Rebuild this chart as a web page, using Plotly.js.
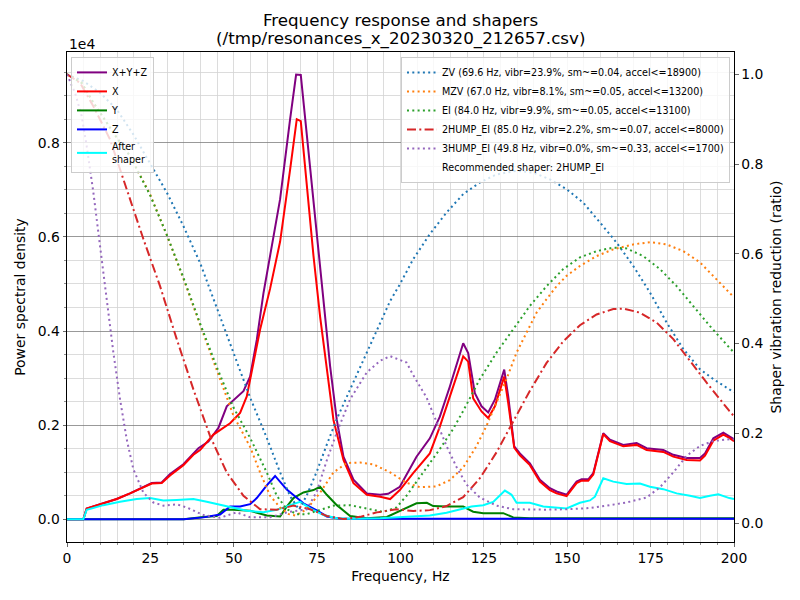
<!DOCTYPE html>
<html>
<head>
<meta charset="utf-8">
<script src="https://cdn.plot.ly/plotly-3.0.1.min.js"></script>
<style>
  body { margin: 0; background: #fff; }
  #plot { width: 800px; height: 600px; }
</style>
</head>
<body>
<div id="plot"></div>
<script>
// PSD values are in units of 1e4
var sumFreq = [0, 4.9, 5.9, 10.9, 14.9, 18.9, 22.4, 25.4, 28.4, 30.9, 34.9, 37.4, 39.4, 42.4, 45.4, 47.9, 50.4, 52.9, 54.9, 56.9, 58.9, 60.9, 63.9, 66.9, 68.7, 70.1, 72.4, 73.9, 76.9, 78.9, 80.9, 82.9, 85.9, 89.9, 93.9, 96.3, 99.8, 104.8, 108.8, 111.8, 114.8, 117.3, 118.8, 120.3, 122.3, 124.3, 126.3, 128.3, 129.8, 131.1, 132.3, 134.1, 135.8, 138.8, 141.8, 144.8, 146.8, 149.8, 152.8, 154.3, 156.3, 157.8, 160.8, 162.8, 166.8, 170.8, 173.8, 178.8, 181.8, 185.8, 189.8, 191.3, 193.8, 196.8, 198.6, 200];
var sumPsd = [0, 0, 0.023, 0.034, 0.043, 0.055, 0.066, 0.077, 0.078, 0.096, 0.117, 0.137, 0.151, 0.165, 0.194, 0.240, 0.256, 0.272, 0.303, 0.381, 0.480, 0.560, 0.680, 0.850, 0.945, 0.944, 0.786, 0.679, 0.467, 0.325, 0.211, 0.133, 0.084, 0.055, 0.052, 0.054, 0.069, 0.133, 0.172, 0.218, 0.282, 0.339, 0.374, 0.353, 0.268, 0.240, 0.227, 0.254, 0.289, 0.318, 0.261, 0.155, 0.140, 0.119, 0.084, 0.066, 0.059, 0.052, 0.080, 0.085, 0.085, 0.098, 0.183, 0.169, 0.158, 0.162, 0.151, 0.147, 0.137, 0.130, 0.130, 0.140, 0.172, 0.184, 0.176, 0.170];

var xFreq = [0, 4.9, 5.9, 10.9, 14.9, 18.9, 22.4, 25.4, 28.4, 30.9, 34.9, 37.9, 39.9, 43.9, 48.9, 51.9, 53.9, 55.9, 57.9, 60.9, 63.9, 66.9, 68.9, 70.1, 71.9, 73.9, 75.9, 77.9, 79.9, 82.9, 85.9, 89.9, 93.9, 96.9, 99.8, 103.8, 108.8, 111.8, 114.8, 118.8, 120.3, 121.8, 124.3, 126.3, 128.3, 131.1, 132.3, 134.1, 135.8, 138.8, 141.8, 144.8, 146.8, 149.8, 152.8, 154.3, 156.3, 157.8, 160.8, 162.8, 166.8, 170.8, 173.8, 178.8, 181.8, 185.8, 189.8, 191.3, 193.8, 196.8, 198.6, 200];
var xPsd = [0, 0, 0.023, 0.034, 0.043, 0.055, 0.066, 0.076, 0.077, 0.093, 0.115, 0.137, 0.147, 0.180, 0.204, 0.226, 0.261, 0.332, 0.403, 0.490, 0.590, 0.743, 0.850, 0.846, 0.708, 0.560, 0.430, 0.325, 0.211, 0.126, 0.077, 0.052, 0.048, 0.043, 0.062, 0.098, 0.140, 0.197, 0.261, 0.346, 0.335, 0.257, 0.229, 0.215, 0.240, 0.303, 0.247, 0.152, 0.136, 0.115, 0.080, 0.062, 0.055, 0.049, 0.077, 0.082, 0.082, 0.095, 0.181, 0.166, 0.155, 0.158, 0.147, 0.143, 0.133, 0.126, 0.125, 0.135, 0.167, 0.180, 0.173, 0.166];

var yFreq = [0, 35, 40.9, 44.9, 46.9, 49.9, 54.9, 59.9, 63.9, 65.9, 67.9, 70.9, 73.9, 75.9, 77.9, 80.9, 84.9, 89.9, 95.9, 100.8, 104.8, 107.9, 109.8, 113.8, 118.8, 121.8, 124.8, 130.8, 133.8, 138.8, 150, 170, 185, 200];
var yPsd = [0, 0, 0.005, 0.007, 0.020, 0.020, 0.018, 0.008, 0.006, 0.027, 0.045, 0.057, 0.062, 0.069, 0.052, 0.030, 0.007, 0.002, 0.005, 0.020, 0.034, 0.035, 0.028, 0.027, 0.027, 0.016, 0.013, 0.013, 0.004, 0.002, 0.002, 0.003, 0.003, 0.002];

var zFreq = [0, 35, 40.9, 45.9, 48.9, 51.9, 54.9, 56.9, 59.9, 62.4, 65.9, 68.9, 70.9, 74.9, 77.9, 81.9, 100, 150, 200];
var zPsd = [0, 0, 0.004, 0.010, 0.027, 0.027, 0.032, 0.045, 0.072, 0.092, 0.063, 0.045, 0.034, 0.019, 0.006, 0.001, 0.001, 0.001, 0.001];

var afterFreq = [0, 4.9, 5.9, 10.9, 15.9, 20.9, 24.9, 28.9, 32.9, 37.9, 41.9, 47.9, 53.9, 58.9, 62.9, 66.9, 69.9, 72.9, 76.9, 80.9, 84.9, 93.9, 103.8, 108.8, 113.8, 117.8, 121.3, 124.8, 127.8, 131.3, 133.3, 134.8, 138.8, 142.8, 146.8, 149.8, 153.8, 156.8, 158.3, 160.8, 163.8, 167.8, 171.8, 174.8, 178.8, 182.8, 186.8, 189.8, 192.8, 195.3, 198.6, 200];
var afterPsd = [0, 0, 0.020, 0.030, 0.037, 0.043, 0.045, 0.040, 0.041, 0.043, 0.037, 0.028, 0.018, 0.015, 0.020, 0.030, 0.037, 0.023, 0.009, 0.002, 0.001, 0.002, 0.006, 0.008, 0.014, 0.021, 0.027, 0.030, 0.037, 0.061, 0.052, 0.035, 0.035, 0.027, 0.024, 0.023, 0.035, 0.040, 0.048, 0.087, 0.080, 0.075, 0.076, 0.069, 0.064, 0.055, 0.050, 0.045, 0.050, 0.053, 0.045, 0.043];

// shaper vibration reduction ratios
var zvFreq = [0, 4.9, 9.9, 14.9, 19.9, 24.9, 29.9, 34.9, 39.9, 44.9, 49.9, 54.9, 59.9, 63.9, 66.9, 69.6, 71.9, 74.9, 77.9, 80.9, 84.9, 88.9, 92.9, 96.9, 99.8, 103.8, 108.8, 113.8, 118.8, 123.8, 128.8, 134.8, 139.8, 144.8, 149.8, 154.8, 159.8, 164.8, 169.8, 174.8, 179.8, 184.8, 189.8, 193.8, 198.6, 200];
var zvVals = [1.0, 0.985, 0.959, 0.922, 0.866, 0.803, 0.737, 0.662, 0.580, 0.480, 0.380, 0.280, 0.190, 0.113, 0.060, 0.030, 0.062, 0.115, 0.175, 0.232, 0.298, 0.365, 0.432, 0.495, 0.532, 0.588, 0.644, 0.692, 0.733, 0.759, 0.777, 0.785, 0.781, 0.766, 0.744, 0.714, 0.670, 0.625, 0.573, 0.514, 0.447, 0.388, 0.343, 0.321, 0.298, 0.292];

var mzvFreq = [0, 4.4, 7.9, 10.9, 14.9, 18.9, 24.9, 29.9, 34.9, 39.9, 44.9, 49.9, 54.9, 57.9, 60.9, 63.9, 66.5, 68.5, 71.9, 75.9, 79.9, 83.9, 87.9, 91.9, 96.9, 101.8, 105.8, 110.8, 114.8, 118.8, 122.8, 125.8, 128.8, 131.8, 134.8, 137.8, 140.8, 143.8, 146.8, 149.8, 153.8, 158.8, 163.8, 169.8, 174.8, 179.8, 184.8, 189.8, 193.8, 198.6, 200];
var mzvVals = [1.0, 0.981, 0.937, 0.904, 0.859, 0.818, 0.733, 0.642, 0.545, 0.442, 0.340, 0.240, 0.170, 0.113, 0.061, 0.035, 0.020, 0.017, 0.031, 0.068, 0.113, 0.134, 0.135, 0.131, 0.113, 0.090, 0.080, 0.082, 0.096, 0.124, 0.172, 0.217, 0.269, 0.321, 0.380, 0.425, 0.469, 0.499, 0.528, 0.551, 0.573, 0.595, 0.610, 0.621, 0.626, 0.621, 0.606, 0.581, 0.551, 0.514, 0.503];

var eiFreq = [0, 4.4, 7.9, 10.9, 14.9, 18.9, 24.9, 29.9, 34.9, 39.9, 44.9, 49.9, 54.9, 59.9, 62.9, 65.9, 69.0, 71.9, 74.9, 79.9, 84.9, 89.9, 94.9, 98.8, 101.8, 106.8, 111.8, 115.8, 118.8, 123.8, 128.8, 133.8, 138.8, 143.8, 148.8, 153.8, 158.8, 163.8, 167.8, 172.8, 177.8, 182.8, 187.8, 192.8, 198.6, 200];
var eiVals = [1.0, 0.981, 0.937, 0.904, 0.859, 0.818, 0.731, 0.643, 0.547, 0.445, 0.348, 0.258, 0.190, 0.113, 0.061, 0.031, 0.020, 0.020, 0.027, 0.039, 0.040, 0.033, 0.025, 0.035, 0.061, 0.113, 0.165, 0.210, 0.250, 0.321, 0.380, 0.432, 0.484, 0.528, 0.566, 0.592, 0.606, 0.614, 0.612, 0.595, 0.566, 0.528, 0.484, 0.439, 0.391, 0.380];

var hump2Freq = [0, 3.9, 7.9, 12.9, 17.9, 22.9, 27.9, 32.9, 37.9, 42.9, 47.9, 52.9, 57.9, 62.9, 67.9, 72.9, 77.9, 82.9, 87.9, 92.9, 98.8, 103.8, 108.8, 113.8, 118.8, 123.8, 128.8, 133.8, 138.8, 143.8, 148.8, 153.8, 158.8, 163.8, 166.8, 171.8, 176.8, 181.8, 186.8, 191.8, 198.6, 200];
var hump2Vals = [1.0, 0.981, 0.929, 0.855, 0.744, 0.633, 0.528, 0.410, 0.298, 0.194, 0.113, 0.061, 0.031, 0.030, 0.039, 0.031, 0.016, 0.009, 0.014, 0.024, 0.031, 0.027, 0.029, 0.038, 0.058, 0.100, 0.158, 0.228, 0.295, 0.357, 0.405, 0.441, 0.465, 0.477, 0.478, 0.469, 0.447, 0.410, 0.361, 0.313, 0.250, 0.238];

var hump3Freq = [0, 2.4, 4.4, 5.9, 7.9, 9.9, 11.9, 13.9, 15.9, 17.9, 19.9, 22.9, 25.9, 28.9, 32.9, 35.9, 40.9, 45.9, 50.9, 54.9, 60.9, 65.9, 71.9, 74.9, 77.9, 80.9, 84.9, 89.9, 93.9, 96.9, 101.8, 103.8, 107.8, 110.8, 113.8, 116.8, 119.8, 123.8, 128.8, 133.8, 138.8, 143.8, 149.8, 155.8, 161.8, 167.8, 173.8, 177.8, 181.8, 185.8, 189.8, 193.8, 198.6, 200];
var hump3Vals = [1.0, 0.959, 0.907, 0.84, 0.737, 0.618, 0.499, 0.380, 0.276, 0.187, 0.120, 0.068, 0.046, 0.039, 0.042, 0.035, 0.018, 0.012, 0.024, 0.013, 0.013, 0.024, 0.031, 0.070, 0.140, 0.202, 0.276, 0.336, 0.362, 0.372, 0.358, 0.330, 0.280, 0.226, 0.172, 0.125, 0.086, 0.057, 0.039, 0.031, 0.030, 0.030, 0.031, 0.033, 0.039, 0.046, 0.057, 0.080, 0.113, 0.150, 0.172, 0.183, 0.187, 0.187];

var shaperNames = [
    'ZV (69.6 Hz, vibr=23.9%, sm~=0.04, accel<=18900)',
    'MZV (67.0 Hz, vibr=8.1%, sm~=0.05, accel<=13200)',
    'EI (84.0 Hz, vibr=9.9%, sm~=0.05, accel<=13100)',
    '2HUMP_EI (85.0 Hz, vibr=2.2%, sm~=0.07, accel<=8000)',
    '3HUMP_EI (49.8 Hz, vibr=0.0%, sm~=0.33, accel<=1700)'
];
var recommended = 'Recommended shaper: 2HUMP_EI';
var titleLines = ['Frequency response and shapers', '(/tmp/resonances_x_20230320_212657.csv)'];

var FONT = 'DejaVu Sans, Liberation Sans, sans-serif';
var DOTS = '2px,3.3px';

// Ham tao trace cho duong PSD
function fn_psdTrace(xs, ys, name, color){
    return {x: xs, y: ys, name: name, type: 'scatter', mode: 'lines',
            line: {color: color, width: 2}, legend: 'legend', hoverinfo: 'skip'};
}

// Ham tao trace cho duong shaper (truc phai)
function fn_shaperTrace(xs, ys, name, color, dash){
    return {x: xs, y: ys, name: name, type: 'scatter', mode: 'lines', yaxis: 'y2',
            line: {color: color, width: 2, dash: dash}, legend: 'legend2', hoverinfo: 'skip'};
}

var data = [
    fn_psdTrace(sumFreq, sumPsd, 'X+Y+Z', 'purple'),
    fn_psdTrace(xFreq, xPsd, 'X', 'red'),
    fn_psdTrace(yFreq, yPsd, 'Y', 'green'),
    fn_psdTrace(zFreq, zPsd, 'Z', 'blue'),
    fn_psdTrace(afterFreq, afterPsd, 'After<br>shaper', 'cyan'),
    fn_shaperTrace(zvFreq, zvVals, shaperNames[0], '#1f77b4', DOTS),
    fn_shaperTrace(mzvFreq, mzvVals, shaperNames[1], '#ff7f0e', DOTS),
    fn_shaperTrace(eiFreq, eiVals, shaperNames[2], '#2ca02c', DOTS),
    fn_shaperTrace(hump2Freq, hump2Vals, shaperNames[3], '#d62728', '9px,3.3px,2px,3.3px'),
    fn_shaperTrace(hump3Freq, hump3Vals, shaperNames[4], '#9467bd', DOTS),
    // legend-only entry for the recommendation text
    {x: [null], y: [null], name: recommended, type: 'scatter', mode: 'lines', yaxis: 'y2',
     line: {color: 'rgba(0,0,0,0)', width: 0}, legend: 'legend2', hoverinfo: 'skip'}
];

var legendStyle = {
    font: {family: FONT, size: 9.6, color: '#000'},
    bgcolor: 'rgba(255,255,255,0.8)', bordercolor: '#cccccc', borderwidth: 1,
    yanchor: 'top', y: 0.99, tracegroupgap: 0
};

var layout = {
    width: 800, height: 600,
    margin: {l: 67, r: 66, t: 52, b: 58},
    paper_bgcolor: '#fff', plot_bgcolor: '#fff',
    font: {family: FONT, size: 13.9, color: '#000'},
    showlegend: true,
    title: {text: titleLines[0], font: {family: FONT, size: 16.7},
            x: 0.5, xref: 'paper', xanchor: 'center',
            y: 1 - 19.8 / 600, yref: 'container', yanchor: 'middle'},
    xaxis: {
        range: [0, 200], tick0: 0, dtick: 25, ticks: 'outside', ticklen: 3.5, tickwidth: 0.8,
        showline: true, linecolor: '#000', linewidth: 1, mirror: true,
        showgrid: true, gridcolor: '#d3d3d3', gridwidth: 0.8, zeroline: false,
        minor: {dtick: 5, tick0: 0, ticks: 'outside', ticklen: 2, tickwidth: 0.6,
                showgrid: true, gridcolor: '#d3d3d3', gridwidth: 0.8},
        title: {text: 'Frequency, Hz', font: {size: 13.9}, standoff: 6}
    },
    yaxis: {
        range: [-0.0483, 0.9928], tick0: 0, dtick: 0.2, tickformat: '.1f',
        ticks: 'outside', ticklen: 3.5, tickwidth: 0.8,
        showline: true, linecolor: '#000', linewidth: 1, mirror: true,
        showgrid: true, gridcolor: '#808080', gridwidth: 0.8, zeroline: false,
        minor: {dtick: 0.05, tick0: 0, ticks: 'outside', ticklen: 2, tickwidth: 0.6,
                showgrid: true, gridcolor: '#d3d3d3', gridwidth: 0.8},
        title: {text: 'Power spectral density', font: {size: 13.9}, standoff: 8}
    },
    yaxis2: {
        overlaying: 'y', side: 'right',
        range: [-0.042, 1.0497], tick0: 0, dtick: 0.2, tickformat: '.1f',
        ticks: 'outside', ticklen: 3.5, tickwidth: 0.8,
        showline: true, linecolor: '#000', linewidth: 1,
        showgrid: false, zeroline: false,
        title: {text: 'Shaper vibration reduction (ratio)', font: {size: 13.9}, standoff: 8}
    },
    legend: Object.assign({}, legendStyle, {x: 0.006, xanchor: 'left'}),
    legend2: Object.assign({}, legendStyle, {x: 0.994, xanchor: 'right'}),
    annotations: [
        // second title line
        {text: titleLines[1], xref: 'paper', yref: 'paper', x: 0.5, y: (542 - 38) / 490,
         xanchor: 'center', yanchor: 'middle', showarrow: false, font: {family: FONT, size: 16.7}},
        // axis offset label
        {text: '1e4', xref: 'paper', yref: 'paper', x: 0, y: 1, xanchor: 'left', yanchor: 'bottom',
         yshift: -2, showarrow: false, font: {family: FONT, size: 13.9}}
    ]
};

Plotly.newPlot('plot', data, layout, {staticPlot: true});
</script>
</body>
</html>
